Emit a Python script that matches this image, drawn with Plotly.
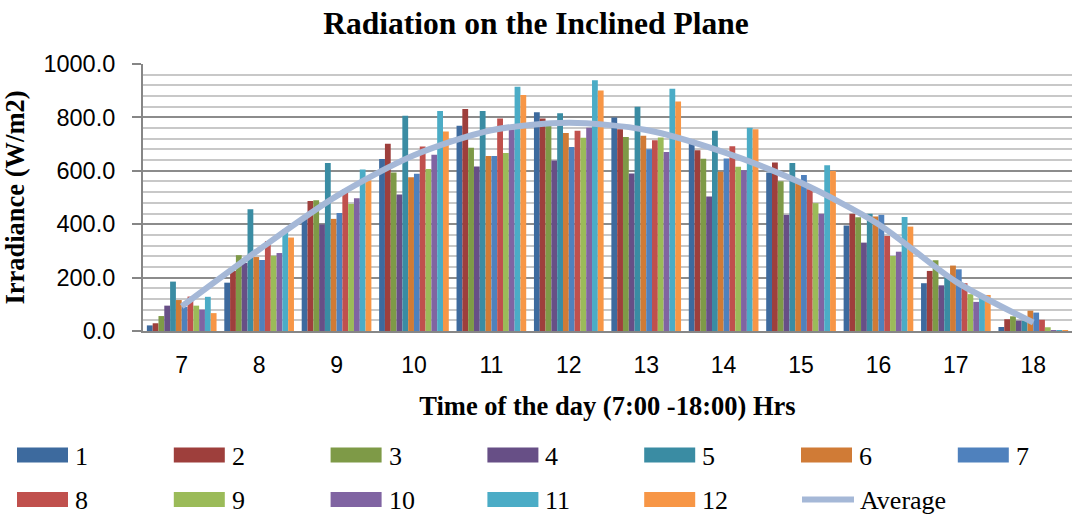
import plotly.graph_objects as go

# Hours of the day (category axis)
hours = ["7", "8", "9", "10", "11", "12", "13", "14", "15", "16", "17", "18"]

# Irradiance (W/m2) for each of the 12 series, one value per hour
s1 = [21, 181, 425, 644, 769, 819, 800, 716, 594, 395, 179, 15]
s2 = [29, 225, 487, 701, 831, 796, 756, 677, 631, 439, 225, 44]
s3 = [56, 284, 490, 594, 686, 769, 727, 645, 561, 426, 265, 55]
s4 = [95, 255, 399, 511, 616, 639, 590, 504, 435, 331, 171, 39]
s5 = [185, 456, 629, 806, 824, 816, 840, 750, 629, 439, 200, 39]
s6 = [116, 277, 420, 576, 655, 742, 731, 596, 555, 429, 245, 76]
s7 = [90, 266, 442, 589, 655, 689, 681, 646, 584, 435, 231, 69]
s8 = [129, 337, 531, 691, 796, 750, 714, 692, 531, 356, 179, 42]
s9 = [95, 282, 476, 607, 667, 724, 725, 615, 479, 281, 138, 14]
s10 = [80, 292, 497, 660, 756, 761, 670, 602, 439, 297, 109, 3]
s11 = [128, 381, 605, 824, 915, 939, 907, 761, 621, 427, 125, 2]
s12 = [67, 350, 564, 747, 884, 901, 860, 756, 599, 391, 135, 3]

# Average curve
average = [92, 305, 505, 658, 752, 780, 753, 670, 555, 400, 185, 32]

series_names = ["1", "2", "3", "4", "5", "6", "7", "8", "9", "10", "11", "12"]
series_values = [s1, s2, s3, s4, s5, s6, s7, s8, s9, s10, s11, s12]
series_colors = ["#3D6A9E", "#9E3F3C", "#7E9A47", "#674F86", "#3A8CA3", "#D07B36",
                 "#4F81BD", "#C0504D", "#9BBB59", "#8064A2", "#4BACC6", "#F79646"]
average_color = "#A5B8D7"

serif = "Liberation Serif, Times New Roman, serif"
sans = "Liberation Sans, Arial, sans-serif"

# Page and plot-area geometry (pixels)
W, H = 1072, 518
ML, MR, MT, MB = 143, 0, 64, 187
PW, PH = W - ML - MR, H - MT - MB


def px_x(px):
    return (px - ML) / PW


def px_y(py):
    return (H - MB - py) / PH


fig = go.Figure()
for name, vals, col in zip(series_names, series_values, series_colors):
    fig.add_trace(go.Bar(x=hours, y=vals, name=name, showlegend=False,
                         marker=dict(color=col, line=dict(width=0))))

fig.add_trace(go.Scatter(x=hours, y=average, name="Average", mode="lines", showlegend=False,
                         line=dict(color=average_color, width=6, shape="spline", smoothing=0.8)))

# Legend drawn below the axis title: two rows of seven entries
col_step = 156.8
col0 = 17
row_y = [455, 499.5]
shapes = []
annotations = []
entries = [(n, c, "bar") for n, c in zip(series_names, series_colors)] + [("Average", average_color, "line")]
for i, (label, color, kind) in enumerate(entries):
    r, c = divmod(i, 7)
    x0 = col0 + c * col_step
    yc = row_y[r]
    if kind == "bar":
        shapes.append(dict(type="rect", xref="paper", yref="paper",
                           x0=px_x(x0), x1=px_x(x0 + 51), y0=px_y(yc - 7.5), y1=px_y(yc + 7.5),
                           fillcolor=color, line=dict(width=0), layer="above"))
        tx = x0 + 56
    else:
        shapes.append(dict(type="line", xref="paper", yref="paper",
                           x0=px_x(x0 + 1), x1=px_x(x0 + 53), y0=px_y(yc), y1=px_y(yc),
                           line=dict(color=color, width=6), layer="above"))
        tx = x0 + 57
    annotations.append(dict(text=label, xref="paper", yref="paper", x=px_x(tx), y=px_y(yc + 1),
                            xanchor="left", yanchor="middle", showarrow=False,
                            font=dict(family=serif, size=26, color="black")))

fig.update_layout(
    width=W, height=H,
    margin=dict(l=ML, r=MR, t=MT, b=MB),
    paper_bgcolor="white", plot_bgcolor="white",
    barmode="group", bargap=0.1, bargroupgap=0,
    showlegend=False,
    shapes=shapes, annotations=annotations,
    title=dict(text="<b>Radiation on the Inclined Plane</b>", x=0.5, xanchor="center",
               y=0.955, yanchor="middle", yref="container",
               font=dict(family=serif, size=31.5, color="black")),
    xaxis=dict(type="category", showgrid=False, showline=True, linecolor="#868686", linewidth=2,
               ticks="", tickfont=dict(family=sans, size=23, color="black"),
               ticklabelstandoff=12,
               title=dict(text="<b>Time of the day (7:00 -18:00) Hrs</b>", standoff=20,
                          font=dict(family=serif, size=26.5, color="black"))),
    yaxis=dict(range=[0, 1000], dtick=200, tickformat=".1f",
               showgrid=True, gridcolor="#8C8C8C", gridwidth=2,
               minor=dict(dtick=40, showgrid=True, gridcolor="#C8C8C8", gridwidth=2),
               showline=True, linecolor="#868686", linewidth=2,
               ticks="outside", ticklen=9, tickcolor="#868686", tickwidth=2,
               ticklabelstandoff=12,
               tickfont=dict(family=sans, size=23.5, color="black"), zeroline=False,
               title=dict(text="<b>Irradiance (W/m2)</b>", standoff=14,
                          font=dict(family=serif, size=26.5, color="black"))),
)

fig.write_html("out.html")
